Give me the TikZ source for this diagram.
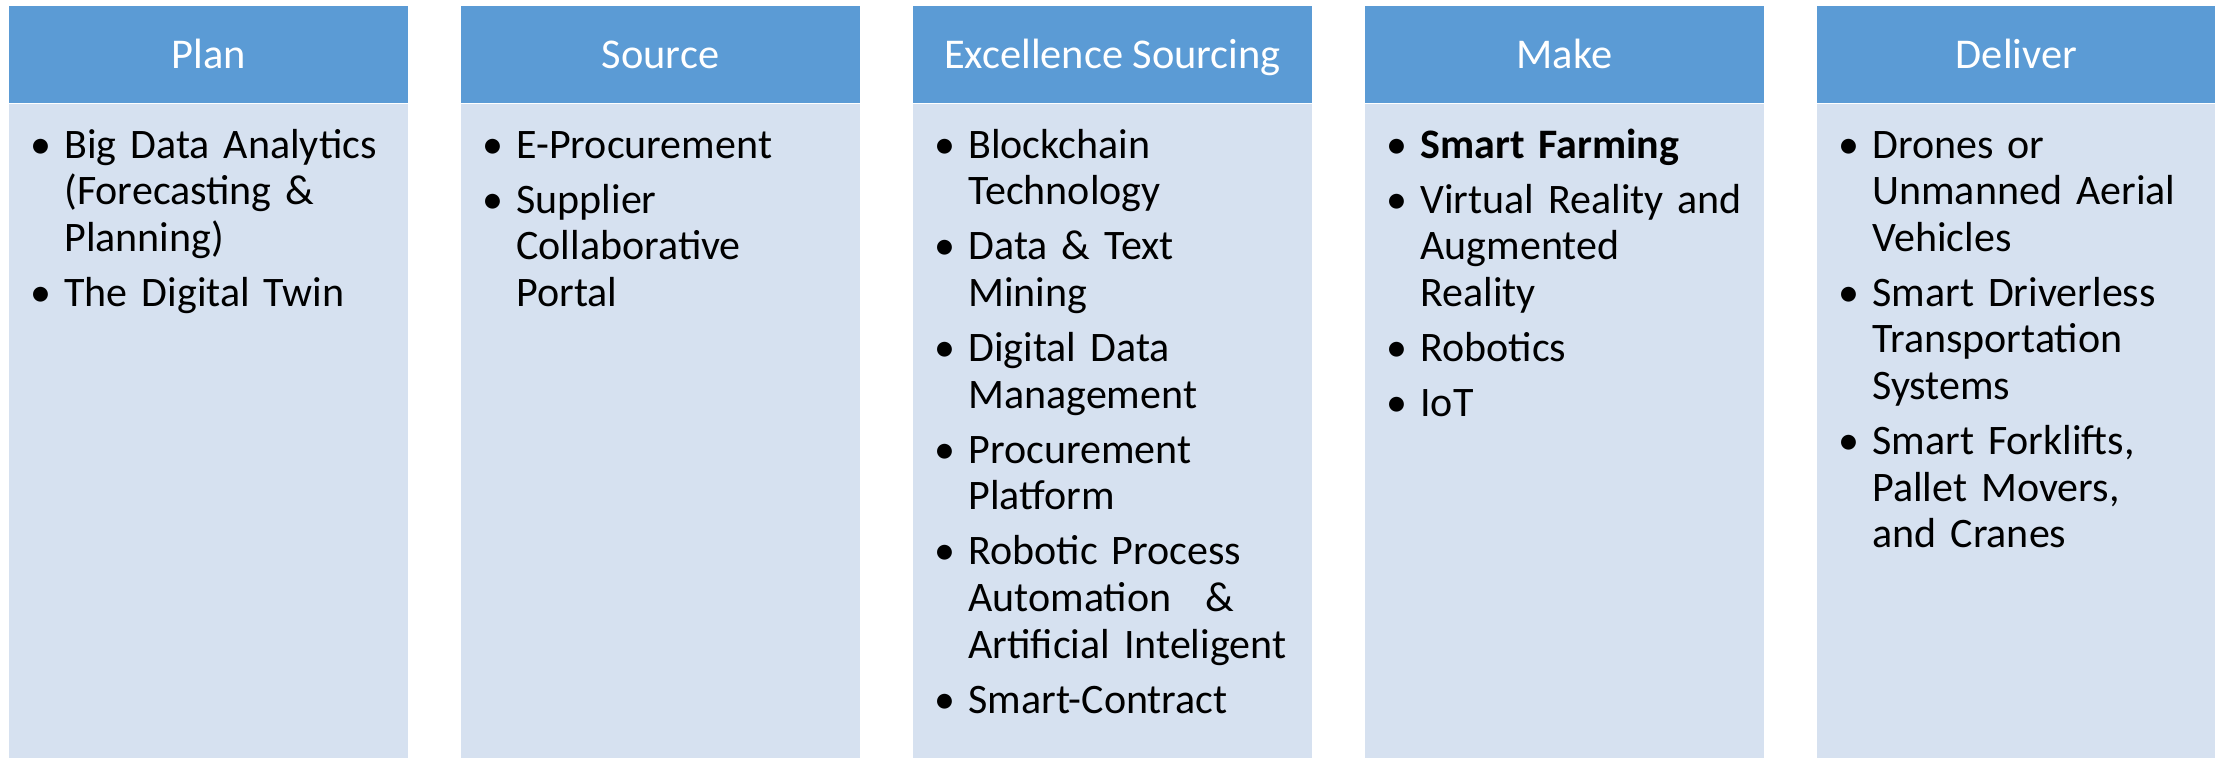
\documentclass[tikz,border=0pt]{standalone}
\usepackage{fontspec}
\setmainfont{Carlito}
\definecolor{headblue}{HTML}{5B9BD5}
\definecolor{bodyblue}{HTML}{D6E1F0}
\newcommand{\bitem}{\par\noindent\hangindent=17pt\hangafter=1\makebox[17pt][l]{\textbullet}}
\begin{document}
\begin{tikzpicture}[x=0.5pt,y=-0.5pt,
  head/.style={shape=rectangle, fill=headblue, text=white, inner sep=0pt, minimum width=199.5pt, minimum height=48.5pt, text height=13.9pt, text depth=0pt, font=\fontsize{21.2pt}{25pt}\selectfont},
  colbox/.style={shape=rectangle, fill=bodyblue, inner sep=0pt, minimum width=199.5pt, minimum height=327.5pt, anchor=north},
  items/.style={anchor=base west, inner sep=0pt, text width=195pt, align=left, font=\fontsize{21pt}{23.3pt}\selectfont\setlength{\parskip}{4.25pt}}]
\useasboundingbox (0,0) rectangle (2215,758);
\node[head] (plan) at (208.5,54.5) {Plan};
\node[head] (source) at (660.5,54.5) {Source};
\node[head] (excel) at (1112.5,54.5) {Excellence Sourcing};
\node[head] (make) at (1564.5,54.5) {Make};
\node[head] (deliver) at (2016.5,54.5) {Deliver};
\node[colbox] (planbox) at (plan.south) {};
\node[colbox] (sourcebox) at (source.south) {};
\node[colbox] (excelbox) at (excel.south) {};
\node[colbox] (makebox) at (make.south) {};
\node[colbox] (deliverbox) at (deliver.south) {};
\node[items] (planlist) at (30,103) {\bitem Big Data Analytics\newline (Forecasting \&\newline Planning)\bitem The Digital Twin\par};
\node[items] (sourcelist) at (482,103) {\bitem E-Procurement\bitem Supplier\newline Collaborative\newline Portal\par};
\node[items] (excellist) at (934,103) {\bitem Blockchain\newline Technology\bitem Data \& Text\newline Mining\bitem Digital Data\newline Management\bitem Procurement\newline Platform\bitem Robotic Process\newline Automation\hspace{0.8em}\&\newline Artificial Inteligent\bitem Smart-Contract\par};
\node[items] (makelist) at (1386,103) {\bitem \textbf{Smart Farming}\bitem Virtual Reality and\newline Augmented\newline Reality\bitem Robotics\bitem IoT\par};
\node[items] (deliverlist) at (1838,103) {\bitem Drones or\newline Unmanned Aerial\newline Vehicles\bitem Smart Driverless\newline Transportation\newline Systems\bitem Smart Forklifts,\newline Pallet Movers,\newline and Cranes\par};
\end{tikzpicture}
\end{document}
